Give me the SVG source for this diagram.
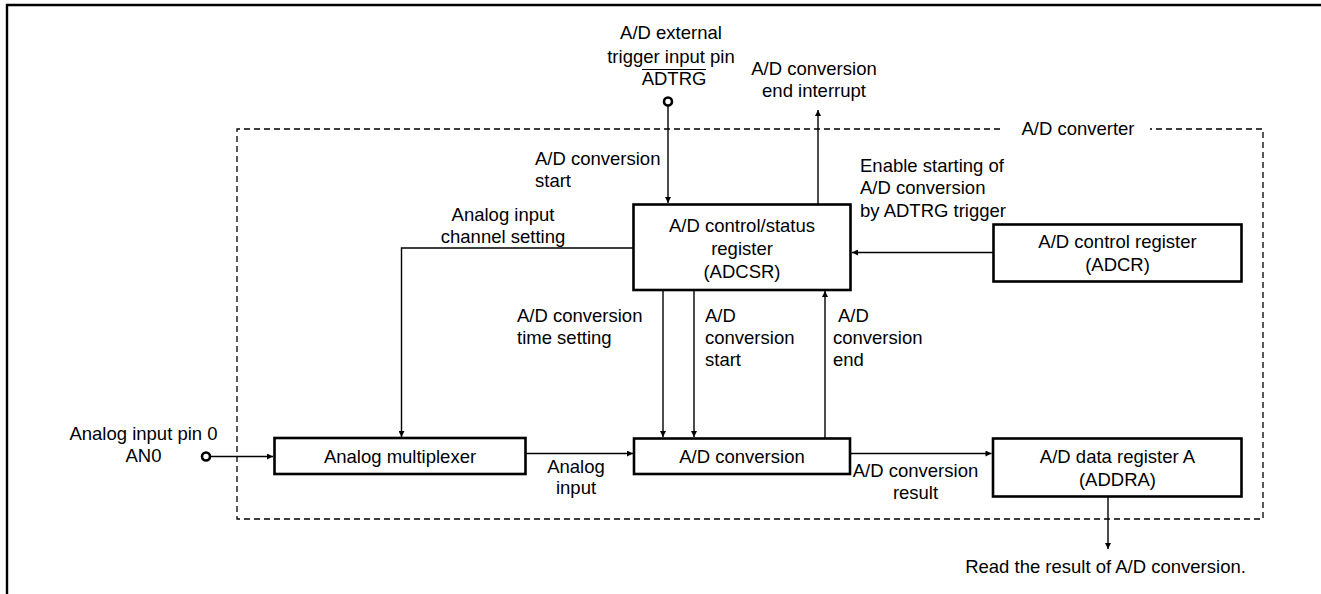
<svg xmlns="http://www.w3.org/2000/svg" width="1321" height="594" viewBox="0 0 1321 594">
<style>
text{font-family:"Liberation Sans",Arial,sans-serif;font-size:18.5px;fill:#000}
.c{text-anchor:middle}
.box{fill:#fff;stroke:#000;stroke-width:2.6}
.ln{fill:none;stroke:#000;stroke-width:1.4}
.dash{fill:none;stroke:#000;stroke-width:1.3;stroke-dasharray:6 4}
.pin{fill:#fff;stroke:#000;stroke-width:2.6}
</style>
<defs>
<marker id="ah" viewBox="0 0 10 10" refX="10" refY="5" markerWidth="9" markerHeight="6" markerUnits="userSpaceOnUse" orient="auto">
<path d="M0,0 L10,5 L0,10 z" fill="#000"/>
</marker>
</defs>
<rect width="1321" height="594" fill="#fff"/>
<path d="M7,594 V5 H1321" fill="none" stroke="#000" stroke-width="2.4"/>
<g id="converter">
<path class="dash" d="M1000,129 H237 V519 H1263 V129 H1150"/>
<text class="c" x="1078" y="135">A/D converter</text>
</g>
<g id="connectors">
<path class="ln" d="M668,106 V203" marker-end="url(#ah)"/>
<path class="ln" d="M818,204 V110" marker-end="url(#ah)"/>
<path class="ln" d="M993,252.5 H852" marker-end="url(#ah)"/>
<path class="ln" d="M633,248 H401.5 V437" marker-end="url(#ah)"/>
<path class="ln" d="M663,290 V437" marker-end="url(#ah)"/>
<path class="ln" d="M694,290 V437" marker-end="url(#ah)"/>
<path class="ln" d="M825,438 V291" marker-end="url(#ah)"/>
<path class="ln" d="M210,456.5 H273" marker-end="url(#ah)"/>
<path class="ln" d="M526,453.5 H633" marker-end="url(#ah)"/>
<path class="ln" d="M850,453.5 H991.5" marker-end="url(#ah)"/>
<path class="ln" d="M1108,497 V549" marker-end="url(#ah)"/>
<text x="535" y="165">A/D conversion</text>
<text x="535" y="187">start</text>
<text class="c" x="814" y="75">A/D conversion</text>
<text class="c" x="814" y="97">end interrupt</text>
<text x="860" y="171.5">Enable starting of</text>
<text x="860" y="194">A/D conversion</text>
<text x="860" y="216.5">by ADTRG trigger</text>
<text class="c" x="503" y="221">Analog input</text>
<text class="c" x="503" y="243">channel setting</text>
<text x="517" y="321.5">A/D conversion</text>
<text x="517" y="343.5">time setting</text>
<text x="705" y="321.5">A/D</text>
<text x="705" y="343.5">conversion</text>
<text x="705" y="366">start</text>
<text x="838" y="321.5">A/D</text>
<text x="833" y="343.5">conversion</text>
<text x="833" y="366">end</text>
<text class="c" x="576" y="472.5">Analog</text>
<text class="c" x="576" y="494">input</text>
<text class="c" x="915.5" y="477">A/D conversion</text>
<text class="c" x="915.5" y="499">result</text>
<text class="c" x="1105.5" y="572.5">Read the result of A/D conversion.</text>
</g>
<g id="adtrg-pin">
<text class="c" x="671" y="39">A/D external</text>
<text class="c" x="671" y="62.5">trigger input pin</text>
<text class="c" x="674" y="85">ADTRG</text>
<line x1="642" y1="69.5" x2="706" y2="69.5" stroke="#000" stroke-width="1.2"/>
<circle class="pin" cx="668" cy="101.5" r="4"/>
</g>
<g id="an0-pin">
<text class="c" x="143.5" y="440">Analog input pin 0</text>
<text class="c" x="143.5" y="461.5">AN0</text>
<circle class="pin" cx="206" cy="456.5" r="4"/>
</g>
<g id="adcsr">
<rect class="box" x="633.5" y="204.5" width="217" height="85.5"/>
<text class="c" x="742" y="231.5">A/D control/status</text>
<text class="c" x="742" y="254.5">register</text>
<text class="c" x="742" y="277.5">(ADCSR)</text>
</g>
<g id="adcr">
<rect class="box" x="993.5" y="224.5" width="248" height="57"/>
<text class="c" x="1117.5" y="248">A/D control register</text>
<text class="c" x="1117.5" y="271">(ADCR)</text>
</g>
<g id="mux">
<rect class="box" x="274.5" y="438" width="251" height="36"/>
<text class="c" x="400" y="463">Analog multiplexer</text>
</g>
<g id="adconv">
<rect class="box" x="634" y="438.5" width="216" height="35.5"/>
<text class="c" x="742" y="463">A/D conversion</text>
</g>
<g id="addra">
<rect class="box" x="993" y="438.5" width="248.5" height="58"/>
<text class="c" x="1117.5" y="463">A/D data register A</text>
<text class="c" x="1117.5" y="486">(ADDRA)</text>
</g>
</svg>
